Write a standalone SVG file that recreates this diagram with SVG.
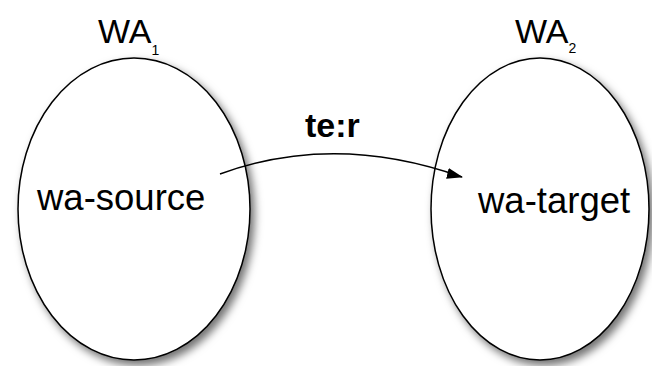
<svg xmlns="http://www.w3.org/2000/svg" width="652" height="366" viewBox="0 0 652 366">
  <style>
    .set { fill: #ffffff; stroke: #000000; stroke-width: 1.5; filter: url(#shadow); }
    .label { font-family: "Liberation Sans", Arial, sans-serif; fill: #000000; }
    .title { font-size: 34px; }
    .sub { font-size: 14px; }
    .name { font-size: 36.5px; }
    .rel { font-size: 34px; font-weight: bold; }
    .edge { fill: none; stroke: #000000; stroke-width: 1.5; }
  </style>
  <defs>
    <filter id="shadow" x="-20%" y="-20%" width="150%" height="150%">
      <feDropShadow dx="4" dy="5" stdDeviation="4" flood-color="#000000" flood-opacity="0.55"/>
    </filter>
    <marker id="arrow" viewBox="0 0 16 12" refX="15" refY="6" markerWidth="16" markerHeight="12" markerUnits="userSpaceOnUse" orient="14">
      <path d="M0,0.5 L16,6 L0,11.5 z" fill="#000000"/>
    </marker>
  </defs>

  <rect width="652" height="366" fill="#ffffff"/>

  <g id="wa1">
    <ellipse class="set" cx="134" cy="209" rx="116" ry="151"/>
    <text class="label title" x="98" y="43">WA<tspan class="sub" dy="12">1</tspan></text>
    <text class="label name" x="37" y="210">wa-source</text>
  </g>

  <g id="wa2">
    <ellipse class="set" cx="540" cy="209" rx="109" ry="151"/>
    <text class="label title" x="515" y="43">WA<tspan class="sub" dy="10">2</tspan></text>
    <text class="label name" x="478" y="213">wa-target</text>
  </g>

  <g id="connectors">
    <path class="edge" d="M220,174 Q335,132 462,177" marker-end="url(#arrow)"/>
    <text class="label rel" x="305" y="137">te:r</text>
  </g>
</svg>
